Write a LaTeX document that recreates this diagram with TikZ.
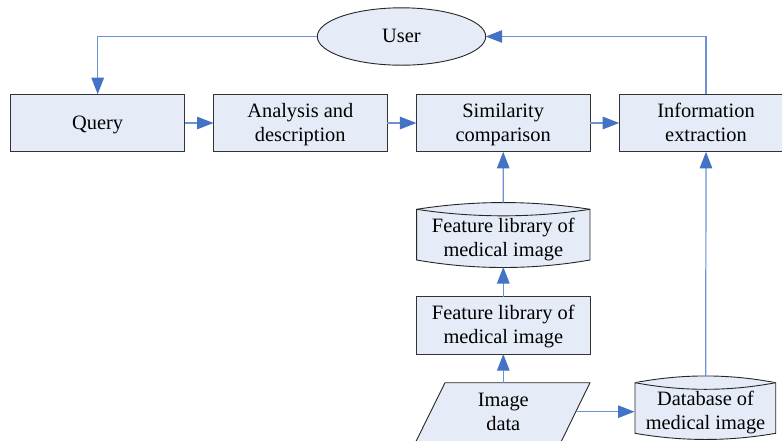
\documentclass[tikz,border=0pt]{standalone}
\usepackage{fontspec}
\setmainfont{Liberation Serif}
\usetikzlibrary{arrows.meta,shapes.geometric}
\definecolor{boxfill}{RGB}{230,236,247}
\definecolor{linkblue}{RGB}{68,114,196}
\definecolor{linkline}{RGB}{108,146,212}
\newcommand{\lst}{\rule[-6pt]{0pt}{24pt}}
\tikzset{
 x=1pt,y=-1pt,
 txt/.style={font=\fontsize{20.4}{24}\selectfont,align=center,text=black,inner sep=0pt,outer sep=0pt},
 boxnode/.style={txt,draw=black!80,fill=boxfill,line width=0.9pt,minimum width=173.6pt,minimum height=57.6pt,anchor=center},
 cyl/.style={draw=black!85,fill=boxfill,line width=0.9pt},
 link/.style={draw=linkline,line width=1.2pt,-{Triangle[length=16.5pt,width=12.5pt,color=linkblue,fill=linkblue]}},
}
\begin{document}
\begin{tikzpicture}
\useasboundingbox (0,0) rectangle (782,440);
\begin{scope}
\clip (0,0) rectangle (782,440);
% shapes
\node[boxnode] (query) at (97.7,123) {\lst Query};
\node[boxnode] (analysis) at (300.3,123) {\lst Analysis and\\\lst description};
\node[boxnode] (simil) at (503.2,123) {\lst Similarity\\\lst comparison};
\node[boxnode] (info) at (706,123) {\lst Information\\\lst extraction};
\node[boxnode] (feat) at (503.3,325.3) {\lst Feature library of\\\lst medical image};
\node[txt,draw=black!85,fill=boxfill,line width=0.9pt,ellipse,minimum width=168.4pt,minimum height=57.4pt] (user) at (401.5,36.5) {\lst User};
% stored-data shapes
\draw[cyl] (416.6,209.3) .. controls (474,200.3) and (532.5,200.3) .. (590,209.3) -- (590,260) .. controls (532.5,270) and (474,270) .. (416.6,260) -- cycle;
\draw[cyl] (416.6,209.3) .. controls (474,218) and (532.5,218) .. (590,209.3);
\node[txt] (lib) at (503.3,238.5) {\lst Feature library of\\\lst medical image};
\coordinate (libtop) at (503.3,202.5);
\coordinate (libbot) at (503.3,267);
\draw[cyl] (635,382.7) .. controls (682,373.7) and (729,373.7) .. (775.7,382.7) -- (775.7,433.3) .. controls (729,441.5) and (682,441.5) .. (635,433.3) -- cycle;
\draw[cyl] (635,382.7) .. controls (682,391.5) and (729,391.5) .. (775.7,382.7);
\node[txt] (db) at (705.5,411.5) {\lst Database of\\\lst medical image};
\coordinate (dbtop) at (705.7,376);
\coordinate (dbleft) at (634.5,411.7);
\draw[cyl] (445,382.7) -- (590,382.7) -- (561,442) -- (415.7,442) -- cycle;
\node[txt] (img) at (503.3,412) {\lst Image\\\lst data};
\coordinate (imgtop) at (503.3,382.7);
\coordinate (imgright) at (576.7,411.7);
% connectors
\draw[link] (user.west) -- (97.7,36.5) -- (query.north);
\draw[link] (info.north) -- (706,36.5) -- (user.east);
\draw[link] (query.east) -- (analysis.west);
\draw[link] (analysis.east) -- (simil.west);
\draw[link] (simil.east) -- (info.west);
\draw[link] (libtop) -- (simil.south);
\draw[link] (feat.north) -- (libbot);
\draw[link] (imgtop) -- (feat.south);
\draw[link] (imgright) -- (dbleft);
\draw[link] (dbtop) -- (info.south);
\end{scope}
\end{tikzpicture}
\end{document}
